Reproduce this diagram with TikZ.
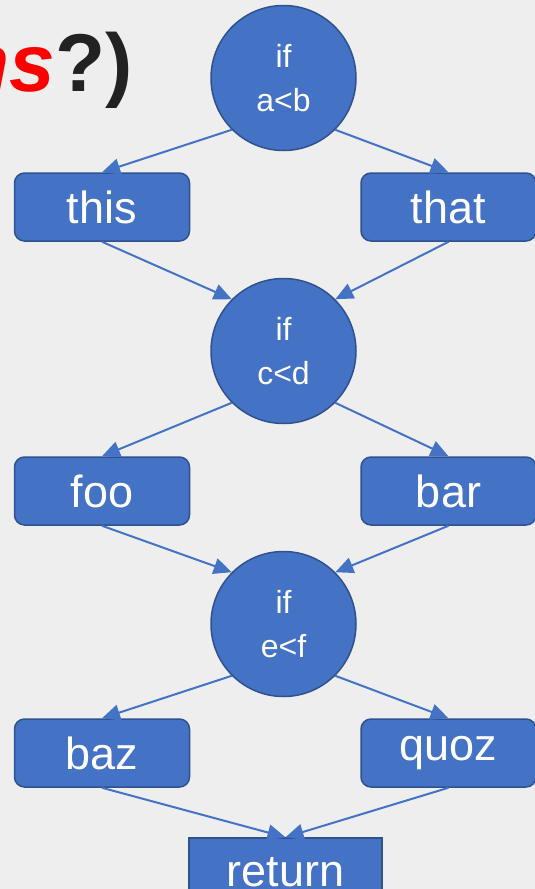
\documentclass[tikz,border=0pt]{standalone}
\usepackage{fontspec}
\setmainfont{Liberation Sans}
\usepackage{tikz}
\usetikzlibrary{arrows.meta}
\usetikzlibrary{shapes}
\definecolor{bg}{HTML}{EEEEEE}
\definecolor{office}{HTML}{4472C4}
\definecolor{rim}{HTML}{2F528F}
\definecolor{ink}{HTML}{222222}
\tikzstyle{test}=[circle,draw=rim,line width=1.5pt,fill=office,text=white,minimum size=145pt,inner sep=0pt,align=center,font=\fontsize{32}{44}\selectfont]
\tikzstyle{blk}=[rectangle,draw=rim,line width=1.5pt,rounded corners=10pt,fill=office,text=white,minimum width=175pt,minimum height=68pt,font=\fontsize{45}{50}\selectfont]
\tikzstyle{edge}=[draw=office,line width=2pt,-{Triangle[length=18pt,width=16pt]}]

\begin{document}
\begin{tikzpicture}[x=1pt,y=-1pt]
  %page
  \fill[bg] (0,0) rectangle (535,889);
  \useasboundingbox (0,0) rectangle (535,889);

  %title
  \node[anchor=base east,inner sep=0pt,font=\fontsize{82}{100}\selectfont\bfseries] (title) at (133,91) {\textcolor{red}{\itshape ns}\textcolor{ink}{?)}};

  %tests
  \node[test] (c1) at (283.5,78) {if\\a<b};
  \node[test] (c2) at (283.5,351) {if\\c<d};
  \node[test] (c3) at (283.5,624) {if\\e<f};

  %branches
  \node[blk] (this) at (102,207) {this};
  \node[blk] (that) at (448.5,207) {that};
  \node[blk] (foo) at (102,491) {foo};
  \node[blk] (bar) at (448.5,491) {bar};
  \node[blk] (baz) at (102,753) {baz};
  \node[blk] (quoz) at (448.5,753) {quoz};
  \node[blk,rounded corners=0pt,minimum width=193pt] (ret) at (285.5,872) {return};

  \foreach \from/\to in {c1.225/this,c1.-45/that,c2.225/foo,c2.-45/bar,c3.225/baz,c3.-45/quoz} {
	\draw[edge] (\from) -- (\to.north);
  }
  \foreach \from/\to in {this/c2.135,that/c2.45,foo/c3.135,bar/c3.45,baz/ret.north,quoz/ret.north} {
	\draw[edge] (\from.south) -- (\to);
  }
\end{tikzpicture}
\end{document}
